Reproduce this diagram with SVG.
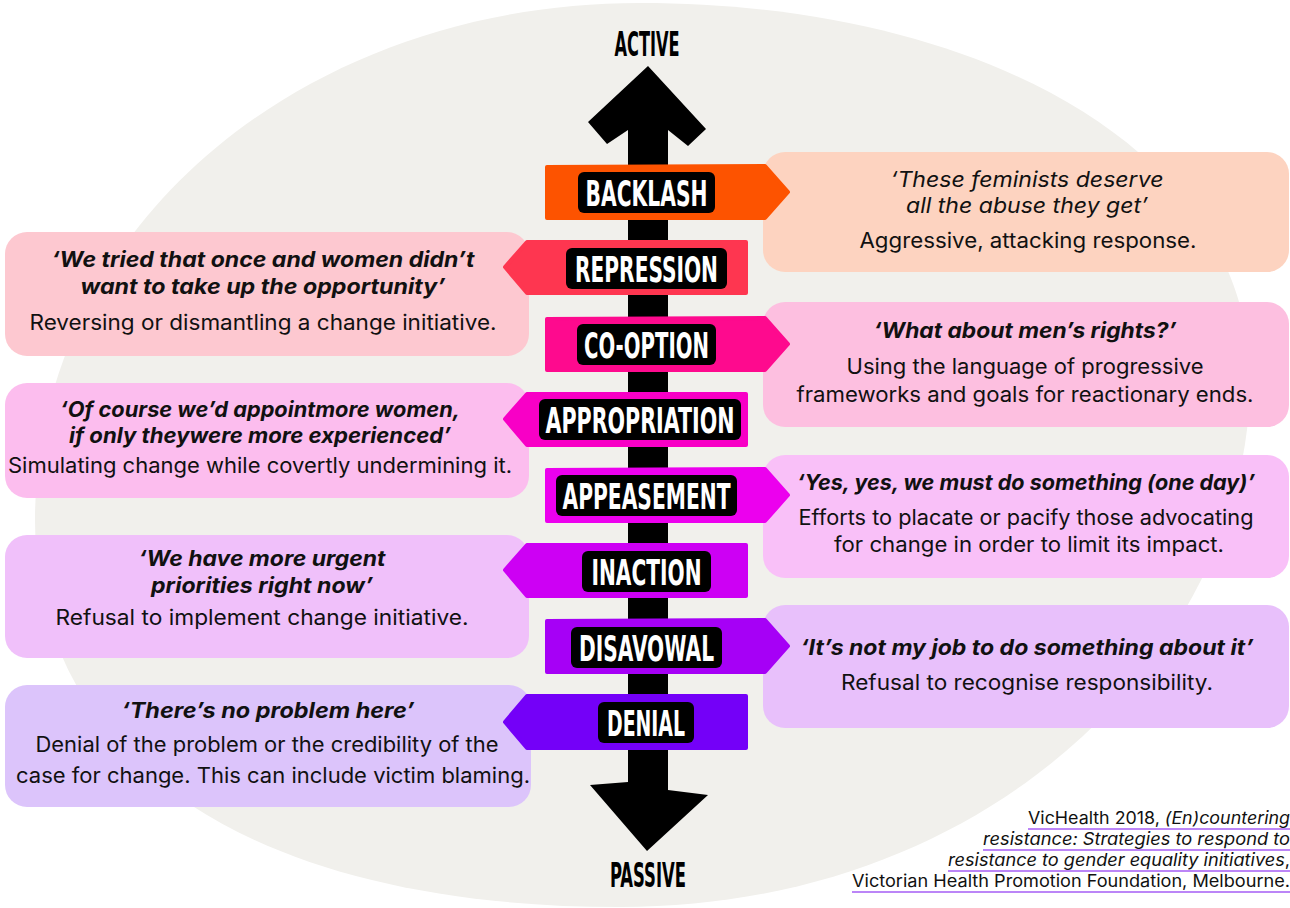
<svg xmlns="http://www.w3.org/2000/svg" width="1290" height="908" viewBox="0 0 1290 908">
<style>
.bg{fill:#f1f0ec}
.box{stroke:none}
.q{font-family:Inter,"Noto Sans","Liberation Sans",sans-serif;font-style:italic;font-weight:700;font-size:21px;fill:#111;text-anchor:middle}
.qi{font-family:Inter,"Noto Sans","Liberation Sans",sans-serif;font-style:italic;font-weight:400;font-size:21px;fill:#111;text-anchor:middle}
.d{font-family:Inter,"Noto Sans","Liberation Sans",sans-serif;font-weight:400;font-size:21px;fill:#111;text-anchor:middle}
.lbl{font-family:"DejaVu Sans Condensed","Liberation Sans Narrow","DejaVu Sans",sans-serif;font-weight:700;font-size:36px;fill:#fff;text-anchor:middle}
.axis{font-family:"DejaVu Sans Condensed","Liberation Sans Narrow","DejaVu Sans",sans-serif;font-weight:700;font-size:33px;fill:#000;text-anchor:middle}
.tag{fill:#000}
.cit{font-family:Inter,"Noto Sans","Liberation Sans",sans-serif;font-weight:400;font-size:17px;fill:#111;text-anchor:end}
.it{font-style:italic}
.ul{stroke:#a45cf4;stroke-width:1.5}
</style>
<rect width="1290" height="908" fill="#ffffff"/>
<path class="bg" d="M640,3 C980,3 1250,150 1250,380 C1250,640 1000,907 620,907 C250,907 35,760 35,520 C35,230 300,3 640,3 Z"/>

<g id="connectors">
<path id="axis-arrow" fill="#000" d="M648,66 L706,129 L688,146 L668,130 L668,790 L708,795 L647,851 L590,785 L628,782 L628,130 L607,144 L588,122 Z"/>
</g>
<text id="active" class="axis" x="647" y="56" textLength="65" lengthAdjust="spacingAndGlyphs">ACTIVE</text>
<text id="passive" class="axis" x="648" y="887" textLength="76" lengthAdjust="spacingAndGlyphs">PASSIVE</text>

<!-- description boxes -->
<g id="desc-backlash">
<rect class="box" x="763" y="152" width="526" height="120" rx="22" fill="#fdd3c0"/>
<text class="qi" x="1027" y="187" textLength="273" lengthAdjust="spacingAndGlyphs">‘These feminists deserve</text>
<text class="qi" x="1027" y="213" textLength="242" lengthAdjust="spacingAndGlyphs">all the abuse they get’</text>
<text class="d" x="1028" y="248" textLength="337" lengthAdjust="spacingAndGlyphs">Aggressive, attacking response.</text>
</g>
<g id="desc-repression">
<rect class="box" x="5" y="232" width="524" height="124" rx="22" fill="#fdc8d0"/>
<text class="q" x="263" y="267" textLength="423" lengthAdjust="spacingAndGlyphs">‘We tried that once and women didn’t</text>
<text class="q" x="263" y="294" textLength="365" lengthAdjust="spacingAndGlyphs">want to take up the opportunity’</text>
<text class="d" x="263" y="330" textLength="467" lengthAdjust="spacingAndGlyphs">Reversing or dismantling a change initiative.</text>
</g>
<g id="desc-cooption">
<rect class="box" x="763" y="302" width="526" height="125" rx="22" fill="#fdbfe0"/>
<text class="q" x="1025" y="338" textLength="303" lengthAdjust="spacingAndGlyphs">‘What about men’s rights?’</text>
<text class="d" x="1025" y="374" textLength="357" lengthAdjust="spacingAndGlyphs">Using the language of progressive</text>
<text class="d" x="1025" y="402" textLength="457" lengthAdjust="spacingAndGlyphs">frameworks and goals for reactionary ends.</text>
</g>
<g id="desc-appropriation">
<rect class="box" x="5" y="383" width="524" height="115" rx="22" fill="#fcbdee"/>
<text class="q" x="260" y="417" textLength="400" lengthAdjust="spacingAndGlyphs">‘Of course we’d appointmore women,</text>
<text class="q" x="260" y="443" textLength="382" lengthAdjust="spacingAndGlyphs">if only theywere more experienced’</text>
<text class="d" x="260" y="473" textLength="504" lengthAdjust="spacingAndGlyphs">Simulating change while covertly undermining it.</text>
</g>
<g id="desc-appeasement">
<rect class="box" x="763" y="455" width="526" height="123" rx="22" fill="#f9c0f8"/>
<text class="q" x="1026" y="490" textLength="458" lengthAdjust="spacingAndGlyphs">‘Yes, yes, we must do something (one day)’</text>
<text class="d" x="1026" y="525" textLength="455" lengthAdjust="spacingAndGlyphs">Efforts to placate or pacify those advocating</text>
<text class="d" x="1029" y="552" textLength="390" lengthAdjust="spacingAndGlyphs">for change in order to limit its impact.</text>
</g>
<g id="desc-inaction">
<rect class="box" x="5" y="535" width="524" height="123" rx="22" fill="#f0c0fa"/>
<text class="q" x="262" y="566" textLength="247" lengthAdjust="spacingAndGlyphs">‘We have more urgent</text>
<text class="q" x="262" y="593" textLength="222" lengthAdjust="spacingAndGlyphs">priorities right now’</text>
<text class="d" x="262" y="625" textLength="413" lengthAdjust="spacingAndGlyphs">Refusal to implement change initiative.</text>
</g>
<g id="desc-disavowal">
<rect class="box" x="763" y="605" width="526" height="123" rx="22" fill="#e8c0fb"/>
<text class="q" x="1027" y="655" textLength="453" lengthAdjust="spacingAndGlyphs">‘It’s not my job to do something about it’</text>
<text class="d" x="1027" y="690" textLength="372" lengthAdjust="spacingAndGlyphs">Refusal to recognise responsibility.</text>
</g>
<g id="desc-denial">
<rect class="box" x="5" y="685" width="526" height="122" rx="22" fill="#dcc4fb"/>
<text class="q" x="268" y="718" textLength="293" lengthAdjust="spacingAndGlyphs">‘There’s no problem here’</text>
<text class="d" x="267" y="752" textLength="463" lengthAdjust="spacingAndGlyphs">Denial of the problem or the credibility of the</text>
<text class="d" x="273" y="783" textLength="514" lengthAdjust="spacingAndGlyphs">case for change. This can include victim blaming.</text>
</g>

<!-- banners -->
<g id="backlash">
<path d="M547,167 L765,166 L788,192 L765,218 L547,218 Z" fill="#fd5300" stroke="#fd5300" stroke-width="4" stroke-linejoin="round"/>
<rect class="tag" x="578" y="172" width="137" height="41" rx="6"/>
<text class="lbl" x="646.5" y="206" textLength="122" lengthAdjust="spacingAndGlyphs">BACKLASH</text>
</g>
<g id="repression">
<path d="M505,267 L527,242 L746,242 L746,293 L527,293 Z" fill="#fe3650" stroke="#fe3650" stroke-width="4" stroke-linejoin="round"/>
<rect class="tag" x="566" y="248" width="161" height="41" rx="6"/>
<text class="lbl" x="646.5" y="282" textLength="143" lengthAdjust="spacingAndGlyphs">REPRESSION</text>
</g>
<g id="cooption">
<path d="M547,319 L765,318 L788,344 L765,370 L547,370 Z" fill="#fe0a8e" stroke="#fe0a8e" stroke-width="4" stroke-linejoin="round"/>
<rect class="tag" x="577" y="324" width="139" height="41" rx="6"/>
<text class="lbl" x="646.5" y="358" textLength="125" lengthAdjust="spacingAndGlyphs">CO-OPTION</text>
</g>
<g id="appropriation">
<path d="M505,419 L527,394 L746,394 L746,445 L527,445 Z" fill="#f800c6" stroke="#f800c6" stroke-width="4" stroke-linejoin="round"/>
<rect class="tag" x="539" y="399" width="202" height="41" rx="6"/>
<text class="lbl" x="640" y="433" textLength="189" lengthAdjust="spacingAndGlyphs">APPROPRIATION</text>
</g>
<g id="appeasement">
<path d="M547,470 L765,469 L788,495 L765,521 L547,521 Z" fill="#ec00ee" stroke="#ec00ee" stroke-width="4" stroke-linejoin="round"/>
<rect class="tag" x="556" y="475" width="181" height="41" rx="6"/>
<text class="lbl" x="646.5" y="509" textLength="168" lengthAdjust="spacingAndGlyphs">APPEASEMENT</text>
</g>
<g id="inaction">
<path d="M505,570 L527,545 L746,545 L746,596 L527,596 Z" fill="#cd00f4" stroke="#cd00f4" stroke-width="4" stroke-linejoin="round"/>
<rect class="tag" x="582" y="551" width="129" height="41" rx="6"/>
<text class="lbl" x="646.5" y="585" textLength="110" lengthAdjust="spacingAndGlyphs">INACTION</text>
</g>
<g id="disavowal">
<path d="M547,621 L765,620 L788,646 L765,672 L547,672 Z" fill="#a600f6" stroke="#a600f6" stroke-width="4" stroke-linejoin="round"/>
<rect class="tag" x="571" y="627" width="151" height="41" rx="6"/>
<text class="lbl" x="646.5" y="661" textLength="135" lengthAdjust="spacingAndGlyphs">DISAVOWAL</text>
</g>
<g id="denial">
<path d="M505,722 L527,696 L746,696 L746,748 L527,748 Z" fill="#7400f8" stroke="#7400f8" stroke-width="4" stroke-linejoin="round"/>
<rect class="tag" x="598" y="702" width="96" height="41" rx="6"/>
<text class="lbl" x="646" y="736" textLength="78" lengthAdjust="spacingAndGlyphs">DENIAL</text>
</g>

<g id="citation">
<text class="cit" x="1290" y="824" textLength="262" lengthAdjust="spacingAndGlyphs">VicHealth 2018, <tspan class="it">(En)countering</tspan></text>
<text class="cit it" x="1290" y="845" textLength="307" lengthAdjust="spacingAndGlyphs">resistance: Strategies to respond to</text>
<text class="cit" x="1290" y="866" textLength="342" lengthAdjust="spacingAndGlyphs"><tspan class="it">resistance to gender equality initiatives</tspan>,</text>
<text class="cit" x="1290" y="887" textLength="438" lengthAdjust="spacingAndGlyphs">Victorian Health Promotion Foundation, Melbourne.</text>
<line class="ul" x1="1028" y1="829" x2="1290" y2="829"/>
<line class="ul" x1="983" y1="850" x2="1290" y2="850"/>
<line class="ul" x1="948" y1="871" x2="1290" y2="871"/>
<line class="ul" x1="852" y1="892" x2="1290" y2="892"/>
</g>
</svg>
